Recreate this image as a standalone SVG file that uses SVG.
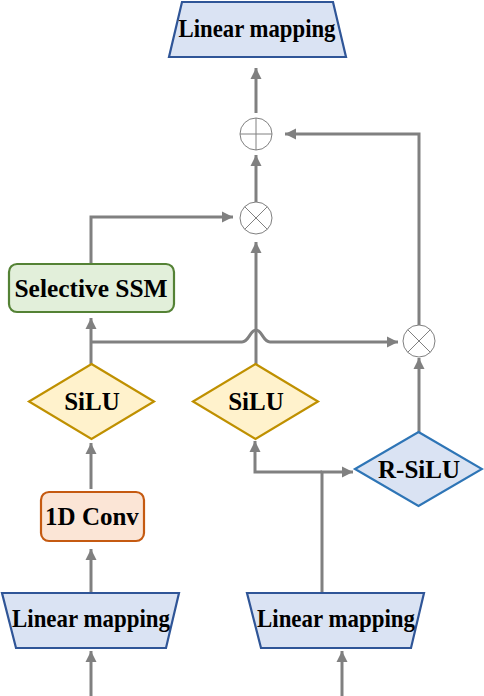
<svg xmlns="http://www.w3.org/2000/svg" width="484" height="696" viewBox="0 0 484 696">
<defs>
<marker id="ah" markerUnits="userSpaceOnUse" markerWidth="12" markerHeight="12" viewBox="0 0 12 12" refX="11" refY="6" orient="auto">
<path d="M0,0.5 L11,6 L0,11.5 z" fill="#808080"/>
</marker>
<style>
.c{fill:none;stroke:#808080;stroke-width:3}
.a{marker-end:url(#ah)}
.t{font-family:"Liberation Serif","Times New Roman",serif;font-weight:bold;font-size:25px;fill:#000;text-anchor:middle}
.lm{fill:#dae3f3;stroke:#2f5597;stroke-width:2.2}
.dy{fill:#fff2cc;stroke:#bf9000;stroke-width:2.2}
.db{fill:#dae3f3;stroke:#2e75b6;stroke-width:2.2}
.op{fill:#fff;stroke:#808080;stroke-width:1}
</style>
</defs>
<g id="connectors">
<path class="c a" d="M91,696 L91,651"/>
<path class="c a" d="M342,696 L342,651"/>
<path class="c a" d="M91,593 L91,549"/>
<path class="c a" d="M91,489 L91,443"/>
<path class="c a" d="M91,364 L91,318"/>
<path class="c a" d="M91,264 L91,217 L233,217"/>
<path class="c a" d="M91,342 L242,342 C249,342 250,330 256,330 C262,330 263,342 270,342 L398,342"/>
<path class="c a" d="M256,364 L256,242"/>
<path class="c a" d="M322,593 L322,472 L353,472"/>
<path class="c a" d="M322,472 L255,472 L255,441"/>
<path class="c a" d="M419,432 L419,358"/>
<path class="c a" d="M419,325 L419,134 L285,134"/>
<path class="c a" d="M256,202 L256,155"/>
<path class="c a" d="M256,113 L256,68"/>
</g>
<g id="lm-top">
<polygon class="lm" points="182,2 333,2 346,57 169,57"/>
<text class="t" x="257" y="37" textLength="157" lengthAdjust="spacingAndGlyphs">Linear mapping</text>
</g>
<g id="add">
<circle class="op" cx="256" cy="134" r="16"/>
<path d="M240,134 H272 M256,118 V150" stroke="#808080" stroke-width="1"/>
</g>
<g id="mul-top">
<circle class="op" cx="256" cy="218" r="16"/>
<path d="M244.7,206.7 L267.3,229.3 M267.3,206.7 L244.7,229.3" stroke="#808080" stroke-width="1"/>
</g>
<g id="mul-right">
<circle class="op" cx="419" cy="341" r="16"/>
<path d="M407.7,329.7 L430.3,352.3 M430.3,329.7 L407.7,352.3" stroke="#808080" stroke-width="1"/>
</g>
<g id="ssm">
<rect x="9" y="264" width="165" height="48" rx="8" fill="#e2efda" stroke="#548235" stroke-width="2.2"/>
<text class="t" x="91" y="297" textLength="153" lengthAdjust="spacingAndGlyphs">Selective SSM</text>
</g>
<g id="silu1">
<polygon class="dy" points="91.5,364 154,401.5 91.5,439 29,401.5"/>
<text class="t" x="92" y="410">SiLU</text>
</g>
<g id="silu2">
<polygon class="dy" points="255.5,364 318,401.5 255.5,439 193,401.5"/>
<text class="t" x="256" y="410">SiLU</text>
</g>
<g id="rsilu">
<polygon class="db" points="418.5,432 482,469 418.5,506 355,469"/>
<text class="t" x="419" y="478">R-SiLU</text>
</g>
<g id="conv">
<rect x="41" y="492" width="103" height="49" rx="8" fill="#fbe5d6" stroke="#c55a11" stroke-width="2.2"/>
<text class="t" x="92" y="525">1D Conv</text>
</g>
<g id="lm-left">
<polygon class="lm" points="2,593 179,593 166,648 16,648"/>
<text class="t" x="91" y="627" textLength="158" lengthAdjust="spacingAndGlyphs">Linear mapping</text>
</g>
<g id="lm-right">
<polygon class="lm" points="247,593 424,593 411,648 261,648"/>
<text class="t" x="336" y="627" textLength="158" lengthAdjust="spacingAndGlyphs">Linear mapping</text>
</g>
</svg>
